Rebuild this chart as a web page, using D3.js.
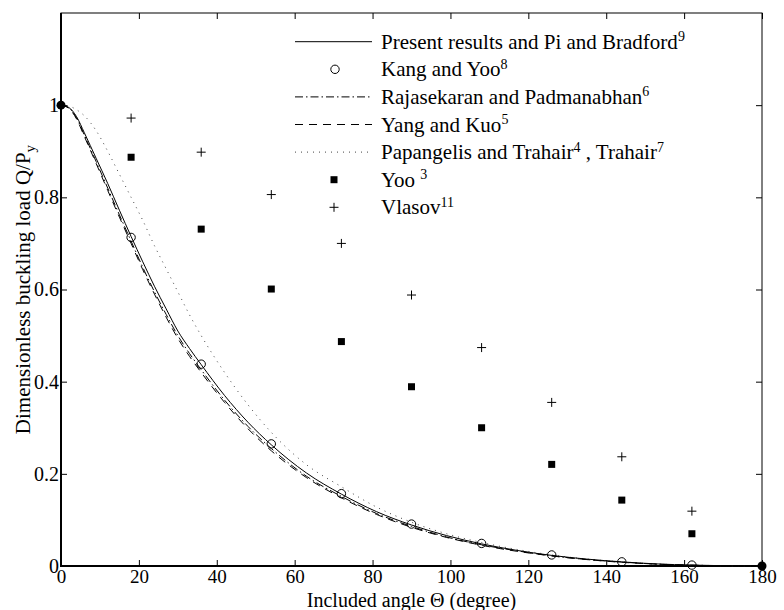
<!DOCTYPE html>
<html><head><meta charset="utf-8">
<script src="https://cdn.jsdelivr.net/npm/d3@7"></script>
<style>
html,body{margin:0;padding:0;background:#fff;}
</style></head>
<body><svg id="chart" width="784" height="610"></svg>
<script>
// ---- data ----
const curveAngles = [0,2,4,6,9,12,15,18,21,24,27,30,33,36,42,48,54,63,72,81,90,99,108,117,126,135,144,153,162,171,180];
const presentVals = [1,0.995,0.975,0.94,0.885,0.83,0.772,0.715,0.66,0.607,0.558,0.51,0.472,0.437,0.37,0.312,0.263,0.202,0.156,0.118,0.089,0.066,0.048,0.034,0.023,0.015,0.009,0.0045,0.002,0.0005,0];
const rajaVals    = [1,0.994,0.972,0.935,0.878,0.82,0.762,0.705,0.648,0.595,0.546,0.5,0.461,0.426,0.36,0.303,0.255,0.195,0.151,0.114,0.086,0.063,0.046,0.033,0.022,0.014,0.0085,0.004,0.0017,0.0004,0];
const yangVals    = [1,0.993,0.97,0.932,0.874,0.815,0.757,0.70,0.643,0.59,0.54,0.494,0.455,0.42,0.355,0.298,0.25,0.192,0.148,0.112,0.084,0.062,0.045,0.032,0.022,0.014,0.008,0.004,0.0015,0.0004,0];
const papanVals   = [1,0.998,0.99,0.977,0.945,0.9,0.85,0.80,0.75,0.695,0.645,0.595,0.545,0.50,0.42,0.35,0.29,0.22,0.172,0.128,0.095,0.07,0.051,0.036,0.024,0.015,0.009,0.0045,0.002,0.0005,0];
const pointAngles = [18,36,54,72,90,108,126,144,162];
const kangVals    = [0.713,0.438,0.265,0.157,0.091,0.049,0.024,0.009,0.002];
const yooVals     = [0.887,0.731,0.601,0.487,0.389,0.300,0.2205,0.143,0.070];
const vlasovVals  = [0.972,0.898,0.806,0.700,0.588,0.474,0.355,0.237,0.119];
const endAngles   = [0,180];
const endVals     = [1,0];
const xTicks = [0,20,40,60,80,100,120,140,160,180];
const yTicks = [0,0.2,0.4,0.6,0.8,1];
const yTickLabels = ["0","0.2","0.4","0.6","0.8","1"];

// ---- layout ----
const FONT = "'Liberation Serif','Times New Roman',serif";
const svg = d3.select("#chart").style("font-family",FONT);
const L=61,R=762,T=13,B=566;
const x = d3.scaleLinear().domain([0,180]).range([L,R]);
const y = d3.scaleLinear().domain([0,1.2]).range([B,T]);

// axes ticks
const gx = svg.append("g").attr("transform",`translate(0,${B})`)
  .call(d3.axisBottom(x).tickValues(xTicks).tickFormat(d3.format("d")).tickSizeInner(-6).tickSizeOuter(0).tickPadding(4));
const gxt = svg.append("g").attr("transform",`translate(0,${T})`)
  .call(d3.axisTop(x).tickValues(xTicks).tickFormat("").tickSizeInner(-6).tickSizeOuter(0));
const gy = svg.append("g").attr("transform",`translate(${L},0)`)
  .call(d3.axisLeft(y).tickValues(yTicks).tickFormat((d,i)=>yTickLabels[i]).tickSizeInner(-6).tickSizeOuter(0).tickPadding(2));
const gyr = svg.append("g").attr("transform",`translate(${R},0)`)
  .call(d3.axisRight(y).tickValues(yTicks).tickFormat("").tickSizeInner(-6).tickSizeOuter(0));
[gx,gxt,gy,gyr].forEach(g=>{
  g.attr("font-family",null).attr("font-size",null);
  g.select(".domain").remove();
  g.selectAll(".tick line").attr("stroke","#000").attr("stroke-width",1);
  g.selectAll("text").style("font-family",FONT).attr("font-size",20).attr("fill","#000");
});
gx.selectAll("text").attr("font-size",19);

// frame
svg.append("rect").attr("x",L).attr("y",T).attr("width",R-L).attr("height",B-T)
  .attr("fill","none").attr("stroke","#000").attr("stroke-width",1);
svg.append("path").attr("d",`M${L},${T}V${B}H${R}`).attr("fill","none").attr("stroke","#000").attr("stroke-width",2);

// curves
const line = (vals)=>d3.line().x((d,i)=>x(curveAngles[i])).y(d=>y(d)).curve(d3.curveMonotoneX)(vals);
const styles = {
  present:{dash:null,color:"#000"},
  raja:{dash:"8,3,1.5,3",color:"#000"},
  yang:{dash:"8,6",color:"#000"},
  papan:{dash:"1,5",color:"#444"}
};
const curves = [["papan",papanVals],["raja",rajaVals],["yang",yangVals],["present",presentVals]];
curves.forEach(([k,v])=>{
  svg.append("path").attr("d",line(v)).attr("fill","none")
    .attr("stroke",styles[k].color).attr("stroke-width",1)
    .attr("stroke-dasharray",styles[k].dash);
});

// markers
function circle(g,cx,cy){g.append("circle").attr("cx",cx).attr("cy",cy).attr("r",4.2).attr("fill","none").attr("stroke","#000").attr("stroke-width",1);}
function square(g,cx,cy){g.append("rect").attr("x",cx-3.5).attr("y",cy-3.5).attr("width",7).attr("height",7).attr("fill","#000");}
function plus(g,cx,cy){g.append("path").attr("d",`M${cx-4.5},${cy}H${cx+4.5}M${cx},${cy-4.5}V${cy+4.5}`).attr("stroke","#000").attr("stroke-width",1);}
pointAngles.forEach((a,i)=>{
  circle(svg,x(a),y(kangVals[i]));
  square(svg,x(a),y(yooVals[i]));
  plus(svg,x(a),y(vlasovVals[i]));
});
endAngles.forEach((a,i)=>{
  svg.append("circle").attr("cx",x(a)).attr("cy",y(endVals[i])).attr("r",4.5).attr("fill","#000");
});

// legend
const legend = [
  {type:"line",key:"present",parts:[["Present results and Pi and Bradford",0],["9",1]]},
  {type:"circle",parts:[["Kang and Yoo",0],["8",1]]},
  {type:"line",key:"raja",parts:[["Rajasekaran and Padmanabhan",0],["6",1]]},
  {type:"line",key:"yang",parts:[["Yang and Kuo",0],["5",1]]},
  {type:"line",key:"papan",parts:[["Papangelis and Trahair",0],["4",1],[" , Trahair",0],["7",1]]},
  {type:"square",parts:[["Yoo ",0],["3",1]]},
  {type:"plus",parts:[["Vlasov",0],["11",1]]}
];
const ly0 = 41.7, ldy = 27.6;
legend.forEach((e,i)=>{
  const ly = ly0 + i*ldy;
  if(e.type==="line"){
    svg.append("line").attr("x1",295).attr("x2",372).attr("y1",ly).attr("y2",ly)
      .attr("stroke",styles[e.key].color).attr("stroke-width",1).attr("stroke-dasharray",styles[e.key].dash);
  } else if(e.type==="circle") circle(svg,335,ly);
  else if(e.type==="square") square(svg,334,ly);
  else plus(svg,334,ly);
  const t = svg.append("text").attr("x",381).attr("y",ly+7).attr("font-size",21).style("font-family",FONT);
  let up=false;
  e.parts.forEach(([s,sup])=>{
    const ts = t.append("tspan").text(s);
    if(sup && !up){ts.attr("font-size",14).attr("dy",-7.5); up=true;}
    else if(!sup && up){ts.attr("dy",7.5); up=false;}
    else if(sup) ts.attr("font-size",14);
  });
});

// axis titles
svg.append("text").attr("x",(L+R)/2).attr("y",606.5).attr("text-anchor","middle").attr("font-size",20).style("font-family",FONT)
  .text("Included angle \u0398 (degree)");
const yt = svg.append("text").attr("transform",`translate(30,${(T+B)/2}) rotate(-90)`).attr("text-anchor","middle").attr("font-size",21).style("font-family",FONT);
yt.append("tspan").text("Dimensionless buckling load Q/P");
yt.append("tspan").text("y").attr("font-size",15).attr("dy",5);
</script>
</body></html>
